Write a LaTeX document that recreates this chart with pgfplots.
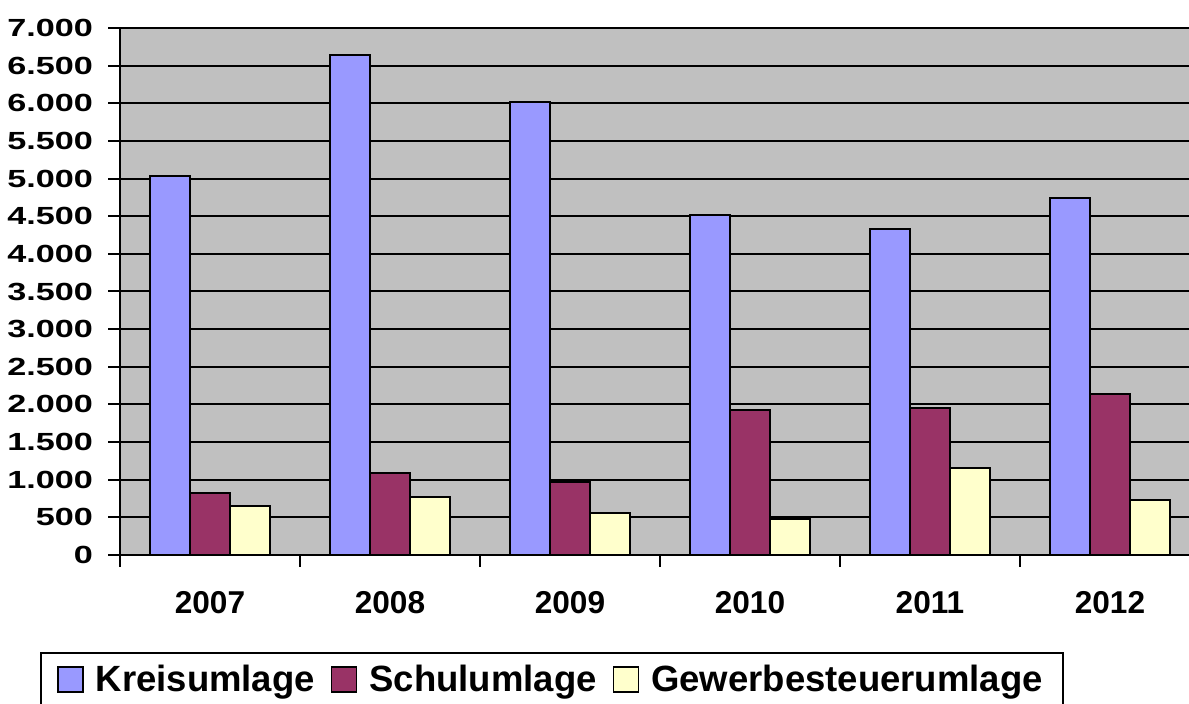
\documentclass[border=0pt]{standalone}
\usepackage{fontspec}
\setmainfont{Liberation Sans}
\newfontfamily\widefont[FakeStretch=1.38]{Liberation Sans}
\usepackage{pgfplots}
\pgfplotsset{compat=1.18}
\definecolor{kreis}{HTML}{9999FF}
\definecolor{schul}{HTML}{993366}
\definecolor{gewerbe}{HTML}{FFFFCC}
\definecolor{plotbg}{HTML}{C0C0C0}
\pgfplotsset{sqlegend/.style={legend image code/.code={\draw[##1, line width=0.8pt] (0pt,-6.25pt) rectangle (12.5pt,6.25pt);}}}
\begin{document}
\begin{tikzpicture}
\begin{axis}[
  at={(60pt,74.5pt)}, anchor=south west,
  width=534.5pt, height=263.5pt, scale only axis,
  xmin=-0.5, xmax=5.43889, ymin=0, ymax=7000,
  ybar=0pt, bar width=20pt,
  axis background/.style={fill=plotbg},
  axis lines=left,
  axis line style={-, line width=1pt, black},
  ytick={0,500,...,7000},
  yticklabels={0,500,1.000,1.500,2.000,2.500,3.000,3.500,4.000,4.500,5.000,5.500,6.000,6.500,7.000},
  ymajorgrids, grid style={black, line width=1pt},
  xtick={0,...,5}, xticklabels={2007,2008,2009,2010,2011,2012},
  minor xtick={-0.5,0.5,...,4.5},
  major x tick style={draw=none},
  minor tick length=6pt, major tick length=6pt, tick align=outside,
  tick style={black, line width=1pt},
  yticklabel style={font=\widefont\bfseries\fontsize{12.4}{13}\selectfont, xshift=-4pt},
  xticklabel style={font=\bfseries\fontsize{15.8}{16}\selectfont, yshift=-8.5pt},
  legend columns=3,
  legend style={at={(0.4041,-0.184)}, anchor=north, draw=black, line width=1pt,
    font=\bfseries\fontsize{18.25}{20}\selectfont,
    /tikz/every odd column/.append style={column sep=4pt},
    /tikz/every even column/.append style={column sep=6pt},
    inner xsep=8pt, inner ysep=4pt},
]
\addplot[fill=kreis, draw=black, line width=1pt, sqlegend] coordinates {(0,5040) (1,6635) (2,6020) (3,4520) (4,4335) (5,4747)};
\addplot[fill=schul, draw=black, line width=1pt, sqlegend] coordinates {(0,830) (1,1090) (2,975) (3,1930) (4,1950) (5,2133)};
\addplot[fill=gewerbe, draw=black, line width=1pt, sqlegend] coordinates {(0,655) (1,772) (2,555) (3,472) (4,1156) (5,730)};
\legend{Kreisumlage,Schulumlage,Gewerbesteuerumlage}
\end{axis}
\pgfresetboundingbox
\path[use as bounding box] (0,0) rectangle (594.5pt,352pt);
\end{tikzpicture}
\end{document}
